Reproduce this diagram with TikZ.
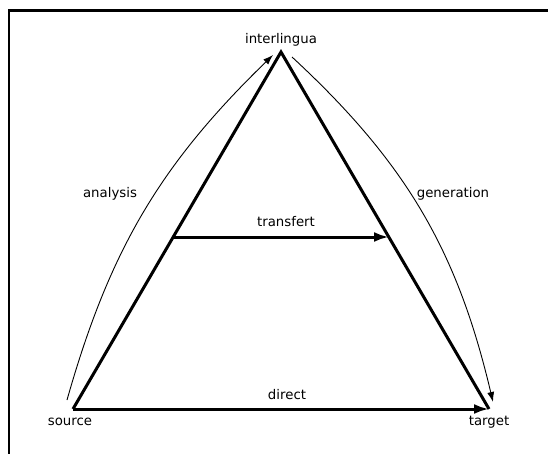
\documentclass[tikz,border=0pt]{standalone}
\usepackage{fontspec}
\setmainfont{DejaVu Sans}
\usetikzlibrary{arrows.meta}
\begin{document}
\begin{tikzpicture}[x=1pt,y=-1pt,
  lbl/.style={inner sep=0pt, font=\fontsize{13.3}{16}\selectfont},
  edge/.style={line width=3pt, line join=miter},
  bigarrow/.style={line width=3pt, -{Latex[length=15pt,width=10pt]}},
  thinarrow/.style={line width=0.9pt, -{Latex[length=10pt,width=7pt]}},
  frame/.style={line width=2.6pt}]
\useasboundingbox (0,0) rectangle (548,454);
\clip (0,0) rectangle (548,454);
\draw[frame] (9,10.5) rectangle (570,480);
% vertices
\coordinate (src) at (73,409);
\coordinate (tgt) at (489,409);
\coordinate (apex) at (281,52);
\coordinate (tl) at (173.5,237);
\coordinate (tr) at (389,237);
% triangle
\draw[edge] (src) -- (apex) -- (tgt);
% arrows
\draw[bigarrow] (src) -- (tgt);
\draw[bigarrow] (tl) -- (tr);
% curves
\coordinate (a1) at (67,400);
\coordinate (a2) at (273,55);
\coordinate (g1) at (292,57);
\coordinate (g2) at (493,402);
\draw[thinarrow] (a1) .. controls (109.8,249.1) and (160.5,164.3) .. (a2);
\draw[thinarrow] (g1) .. controls (406.2,162.7) and (457.3,250.5) .. (g2);
% labels
\node[lbl] (linter) at (281,40) {interlingua};
\node[lbl] (lsrc) at (70,422) {source};
\node[lbl] (ltgt) at (489,422) {target};
\node[lbl] (ldirect) at (287,395) {direct};
\node[lbl] (ltrans) at (286,222) {transfert};
\node[lbl] (lana) at (110,194) {analysis};
\node[lbl] (lgen) at (453,194) {generation};
\end{tikzpicture}
\end{document}
